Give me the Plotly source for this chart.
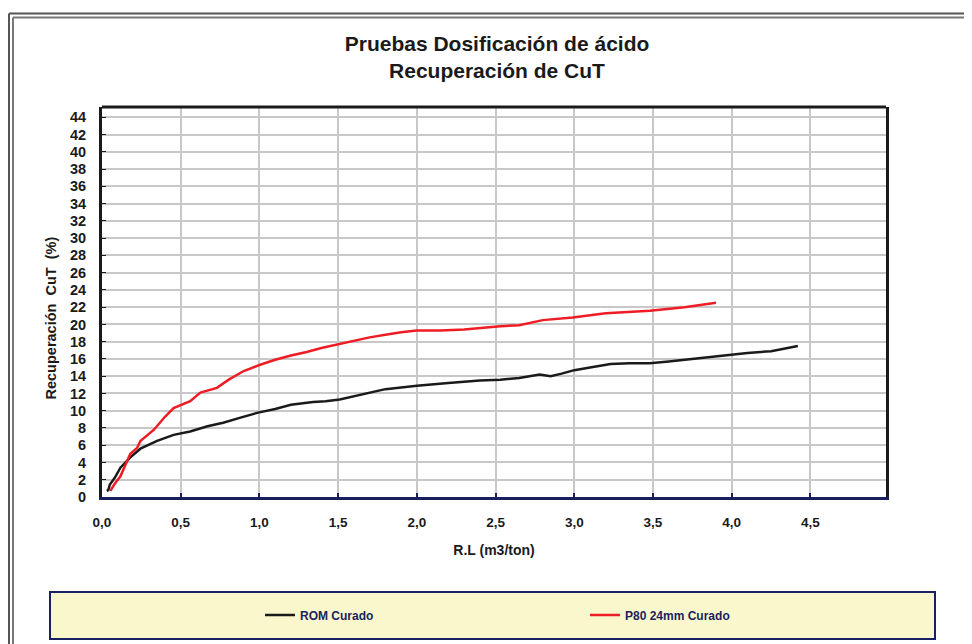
import plotly.graph_objects as go

# ROM Curado
rom_x = [0.03, 0.04, 0.05, 0.08, 0.117, 0.18, 0.244, 0.35, 0.455, 0.56, 0.67, 0.77, 0.88, 0.985,
         1.1, 1.2, 1.34, 1.42, 1.51, 1.6, 1.7, 1.8, 1.9, 2.0, 2.2, 2.4, 2.53, 2.65, 2.78, 2.85,
         2.92, 3.0, 3.1, 3.23, 3.35, 3.48, 3.6, 3.75, 3.97, 4.1, 4.25, 4.42]
rom_y = [0.7, 0.8, 1.45, 2.2, 3.4, 4.6, 5.6, 6.5, 7.2, 7.6, 8.2, 8.6, 9.2, 9.75,
         10.2, 10.7, 11.0, 11.1, 11.3, 11.7, 12.1, 12.5, 12.7, 12.9, 13.2, 13.5, 13.6, 13.8, 14.2, 14.0,
         14.3, 14.7, 15.0, 15.4, 15.5, 15.5, 15.7, 16.0, 16.4, 16.7, 16.9, 17.5]

# P80 24mm Curado
p80_x = [0.053, 0.08, 0.117, 0.163, 0.18, 0.223, 0.244, 0.33, 0.4, 0.455, 0.56, 0.625, 0.73, 0.805,
         0.9, 1.0, 1.1, 1.2, 1.3, 1.4, 1.5, 1.6, 1.7, 1.8, 1.9, 2.0, 2.15, 2.3, 2.53, 2.65,
         2.8, 2.99, 3.2, 3.48, 3.7, 3.9]
p80_y = [0.7, 1.5, 2.4, 4.3, 5.0, 5.7, 6.5, 7.8, 9.3, 10.3, 11.1, 12.1, 12.65, 13.6,
         14.6, 15.3, 15.9, 16.4, 16.8, 17.3, 17.7, 18.1, 18.5, 18.8, 19.1, 19.3, 19.3, 19.4, 19.8, 19.9,
         20.5, 20.8, 21.3, 21.6, 22.0, 22.5]

series_names = ["ROM Curado", "P80 24mm Curado"]

# page has an 8px body margin, so the figure is sized to fill the rest of the window
OFF = 8
W, H = 972 - OFF, 644 - OFF
ML, MR, MT, MB = 94, 86, 99, 147

def px_x(p):
    # page pixel -> paper x
    return (p - OFF - ML) / (W - ML - MR)

def px_y(p):
    # page pixel -> paper y
    return (H - MB - (p - OFF)) / (H - MT - MB)

fig = go.Figure()
fig.add_trace(go.Scatter(x=rom_x, y=rom_y, mode='lines', name=series_names[0],
                         line=dict(color='#1a1a1a', width=2.5)))
fig.add_trace(go.Scatter(x=p80_x, y=p80_y, mode='lines', name=series_names[1],
                         line=dict(color='#ee1c24', width=2.5)))

xtick_font = dict(family='Liberation Sans, Arial', size=13.5, color='#1a1a1a', weight='bold')
ytick_font = dict(family='Liberation Sans, Arial', size=14.5, color='#1a1a1a', weight='bold')

fig.update_layout(
    width=W, height=H,
    paper_bgcolor='white', plot_bgcolor='white',
    separators=',.',
    margin=dict(l=ML, r=MR, t=MT, b=MB, autoexpand=False),
    title=dict(text='<b>Pruebas Dosificación de ácido<br>Recuperación de CuT</b>',
               x=px_x(497), xanchor='center', xref='paper', y=1 - (51 - OFF) / H, yanchor='middle',
               font=dict(family='Liberation Sans, Arial', size=21, color='#1a1a1a')),
    font=dict(family='Liberation Sans, Arial', color='#1a1a1a'),
    xaxis=dict(range=[0, 4.98], dtick=0.5, tick0=0, tickformat='.1f',
               showgrid=True, gridcolor='#c8c8c8', gridwidth=1.5,
               showline=True, linecolor='#1a1f5e', linewidth=3, mirror=False,
               ticks='inside', ticklen=4, tickcolor='#1a1f5e', tickwidth=2,
               ticklabelstandoff=11, tickfont=xtick_font, zeroline=False, automargin=False,
               title=dict(text='<b>R.L (m3/ton)</b>', standoff=16,
                          font=dict(family='Liberation Sans, Arial', size=14, color='#1a1a1a'))),
    yaxis=dict(range=[0, 45.2], dtick=2, tick0=0,
               showgrid=True, gridcolor='#c8c8c8', gridwidth=1.5,
               showline=True, linecolor='#1a1a1a', linewidth=3, mirror=True,
               ticks='inside', ticklen=4, tickcolor='#1a1a1a', tickwidth=1,
               ticklabelstandoff=10, tickfont=ytick_font, zeroline=False, automargin=False,
               title=dict(text='<b>Recuperación  CuT  (%)</b>' + '&nbsp;' * 8, standoff=10,
                          font=dict(family='Liberation Sans, Arial', size=14.5, color='#1a1a1a'))),
    showlegend=True,
    legend=dict(orientation='h', x=px_x(260), xanchor='left', y=px_y(615), yanchor='middle',
                bgcolor='rgba(0,0,0,0)', entrywidth=280, entrywidthmode='pixels',
                font=dict(family='Liberation Sans, Arial', size=12, color='#1a1f5e', weight='bold')),
)

# top line of plot frame
fig.add_shape(type='line', xref='paper', yref='paper', x0=0, x1=1, y0=1, y1=1,
              line=dict(color='#1a1a1a', width=3))

# legend box
fig.add_shape(type='rect', xref='paper', yref='paper',
              x0=px_x(50), x1=px_x(935), y0=px_y(639), y1=px_y(592),
              fillcolor='#faf7cc', line=dict(color='#1a1f5e', width=2), layer='below')

# outer double frame
for off, col in [(9, '#555555'), (13, '#777777')]:
    fig.add_shape(type='line', xref='paper', yref='paper',
                  x0=px_x(off), x1=px_x(off), y0=px_y(off + 4.5), y1=px_y(660),
                  line=dict(color=col, width=2))
    fig.add_shape(type='line', xref='paper', yref='paper',
                  x0=px_x(off), x1=px_x(990), y0=px_y(off + 4.5), y1=px_y(off + 4.5),
                  line=dict(color=col, width=2))

fig.write_html("out.html")
